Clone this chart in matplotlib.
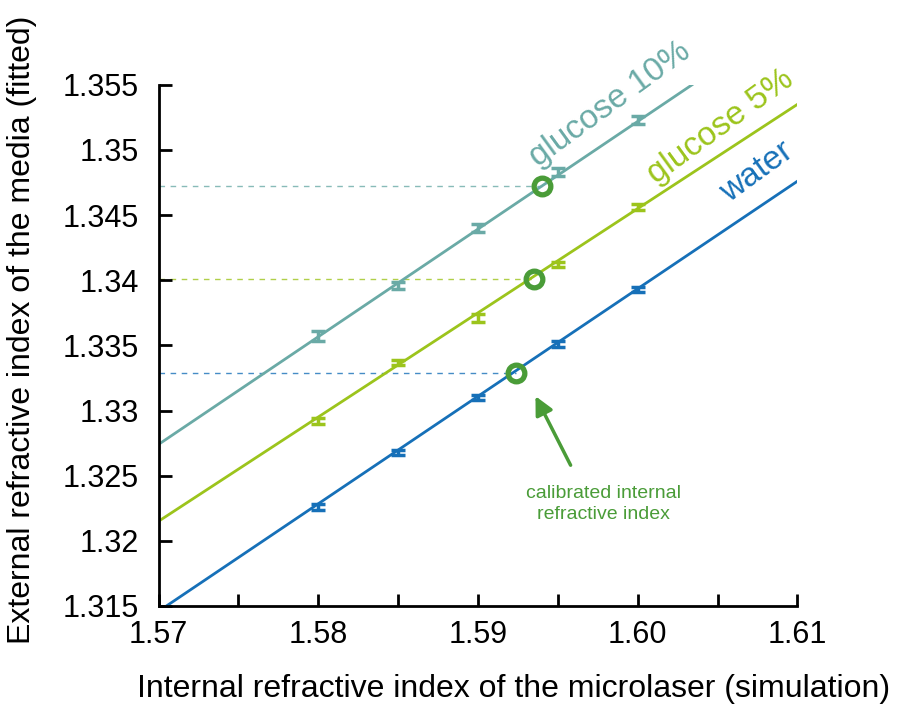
import matplotlib.pyplot as plt

plt.rcParams['font.family'] = ['Liberation Sans', 'DejaVu Sans']

# Simulated internal index and fitted external index per medium
n_int = [1.580, 1.585, 1.590, 1.595, 1.600]
water = [1.3226, 1.3268, 1.3310, 1.3351, 1.3393]
water_err = [0.00022, 0.00018, 0.00020, 0.00022, 0.00020]
gluc5 = [1.3292, 1.3337, 1.3371, 1.3412, 1.3456]
gluc5_err = [0.00020, 0.00018, 0.00028, 0.00020, 0.00024]
gluc10 = [1.3357, 1.3396, 1.3440, 1.3483, 1.3523]
gluc10_err = [0.00040, 0.00028, 0.00030, 0.00028, 0.00028]

# fitted lines (start, end)
water_fit_x = [1.5705, 1.61]
water_fit_y = [1.3150, 1.3476]
gluc5_fit_x = [1.57, 1.61]
gluc5_fit_y = [1.3215, 1.3535]
gluc10_fit_x = [1.57, 1.6034]
gluc10_fit_y = [1.3274, 1.3550]

# calibrated internal index points (x, y)
calib_x = [1.5924, 1.5935, 1.5940]
calib_y = [1.3329, 1.3401, 1.3472]

c_water = '#1670b8'
c_g5 = '#9cc41c'
c_g10 = '#6aaaa6'
c_cal = '#4a9c38'

fig, ax = plt.subplots(figsize=(9.01, 7.07), dpi=100)
fig.subplots_adjust(left=0.176, right=0.885, bottom=0.143, top=0.88)

for fx, fy, c in [(water_fit_x, water_fit_y, c_water),
                  (gluc5_fit_x, gluc5_fit_y, c_g5),
                  (gluc10_fit_x, gluc10_fit_y, c_g10)]:
    ax.plot(fx, fy, color=c, lw=2, zorder=2)

for ys, es, c in [(water, water_err, c_water),
                  (gluc5, gluc5_err, c_g5),
                  (gluc10, gluc10_err, c_g10)]:
    ax.errorbar(n_int, ys, yerr=es, fmt='none', ecolor=c, elinewidth=2.5,
                capsize=5, capthick=2.5, zorder=3)

# dashed guides from the y axis to the calibrated points
for xc, yc, c in zip(calib_x, calib_y, [c_water, c_g5, c_g10]):
    ax.plot([1.57, xc], [yc, yc], ls=(0, (4, 4)), color=c, lw=1, alpha=0.8, zorder=1)

ax.plot(calib_x, calib_y, 'o', ms=12, mfc='none', mec=c_cal, mew=3.8, zorder=4)

ax.annotate('', xy=(1.5936, 1.3311), xytext=(1.5958, 1.3258),
            arrowprops=dict(arrowstyle='-|>,head_length=1.1,head_width=0.55',
                            color=c_cal, lw=2.5, shrinkA=0, shrinkB=0))
ax.text(1.59785, 1.3228, 'calibrated internal\nrefractive index', color=c_cal,
        fontsize=14, ha='center', va='center', linespacing=1.3)

ax.text(1.5983, 1.3535, 'glucose 10%', color=c_g10, fontsize=24, rotation=36,
        ha='center', va='center', rotation_mode='anchor')
ax.text(1.6052, 1.3518, 'glucose 5%', color=c_g5, fontsize=24, rotation=36,
        ha='center', va='center', rotation_mode='anchor')
ax.text(1.6075, 1.3483, 'water', color=c_water, fontsize=24, rotation=36,
        ha='center', va='center', rotation_mode='anchor')

ax.set_xlim(1.57, 1.61)
ax.set_ylim(1.315, 1.355)
ax.set_xticks([1.57, 1.58, 1.59, 1.60, 1.61])
ax.set_xticklabels(['1.57', '1.58', '1.59', '1.60', '1.61'])
ax.set_xticks([1.575, 1.585, 1.595, 1.605], minor=True)
yt = [1.315, 1.32, 1.325, 1.33, 1.335, 1.34, 1.345, 1.35, 1.355]
ax.set_yticks(yt)
ax.set_yticklabels(['1.315', '1.32', '1.325', '1.33', '1.335', '1.34', '1.345', '1.35', '1.355'])
ax.tick_params(axis='both', which='both', direction='in', width=2, labelsize=22)
ax.tick_params(axis='both', which='major', length=9)
ax.tick_params(axis='x', which='minor', length=9)
ax.tick_params(axis='x', pad=10)
ax.tick_params(axis='y', pad=14)
for s in ['top', 'right']:
    ax.spines[s].set_visible(False)
for s in ['left', 'bottom']:
    ax.spines[s].set_linewidth(2)

ax.set_xlabel('Internal refractive index of the microlaser (simulation)', fontsize=23)
ax.set_ylabel('External refractive index of the media (fitted)', fontsize=23)
ax.xaxis.set_label_coords(0.555, -0.13)
ax.yaxis.set_label_coords(-0.19, 0.53)

plt.savefig('out.png', dpi=100)
